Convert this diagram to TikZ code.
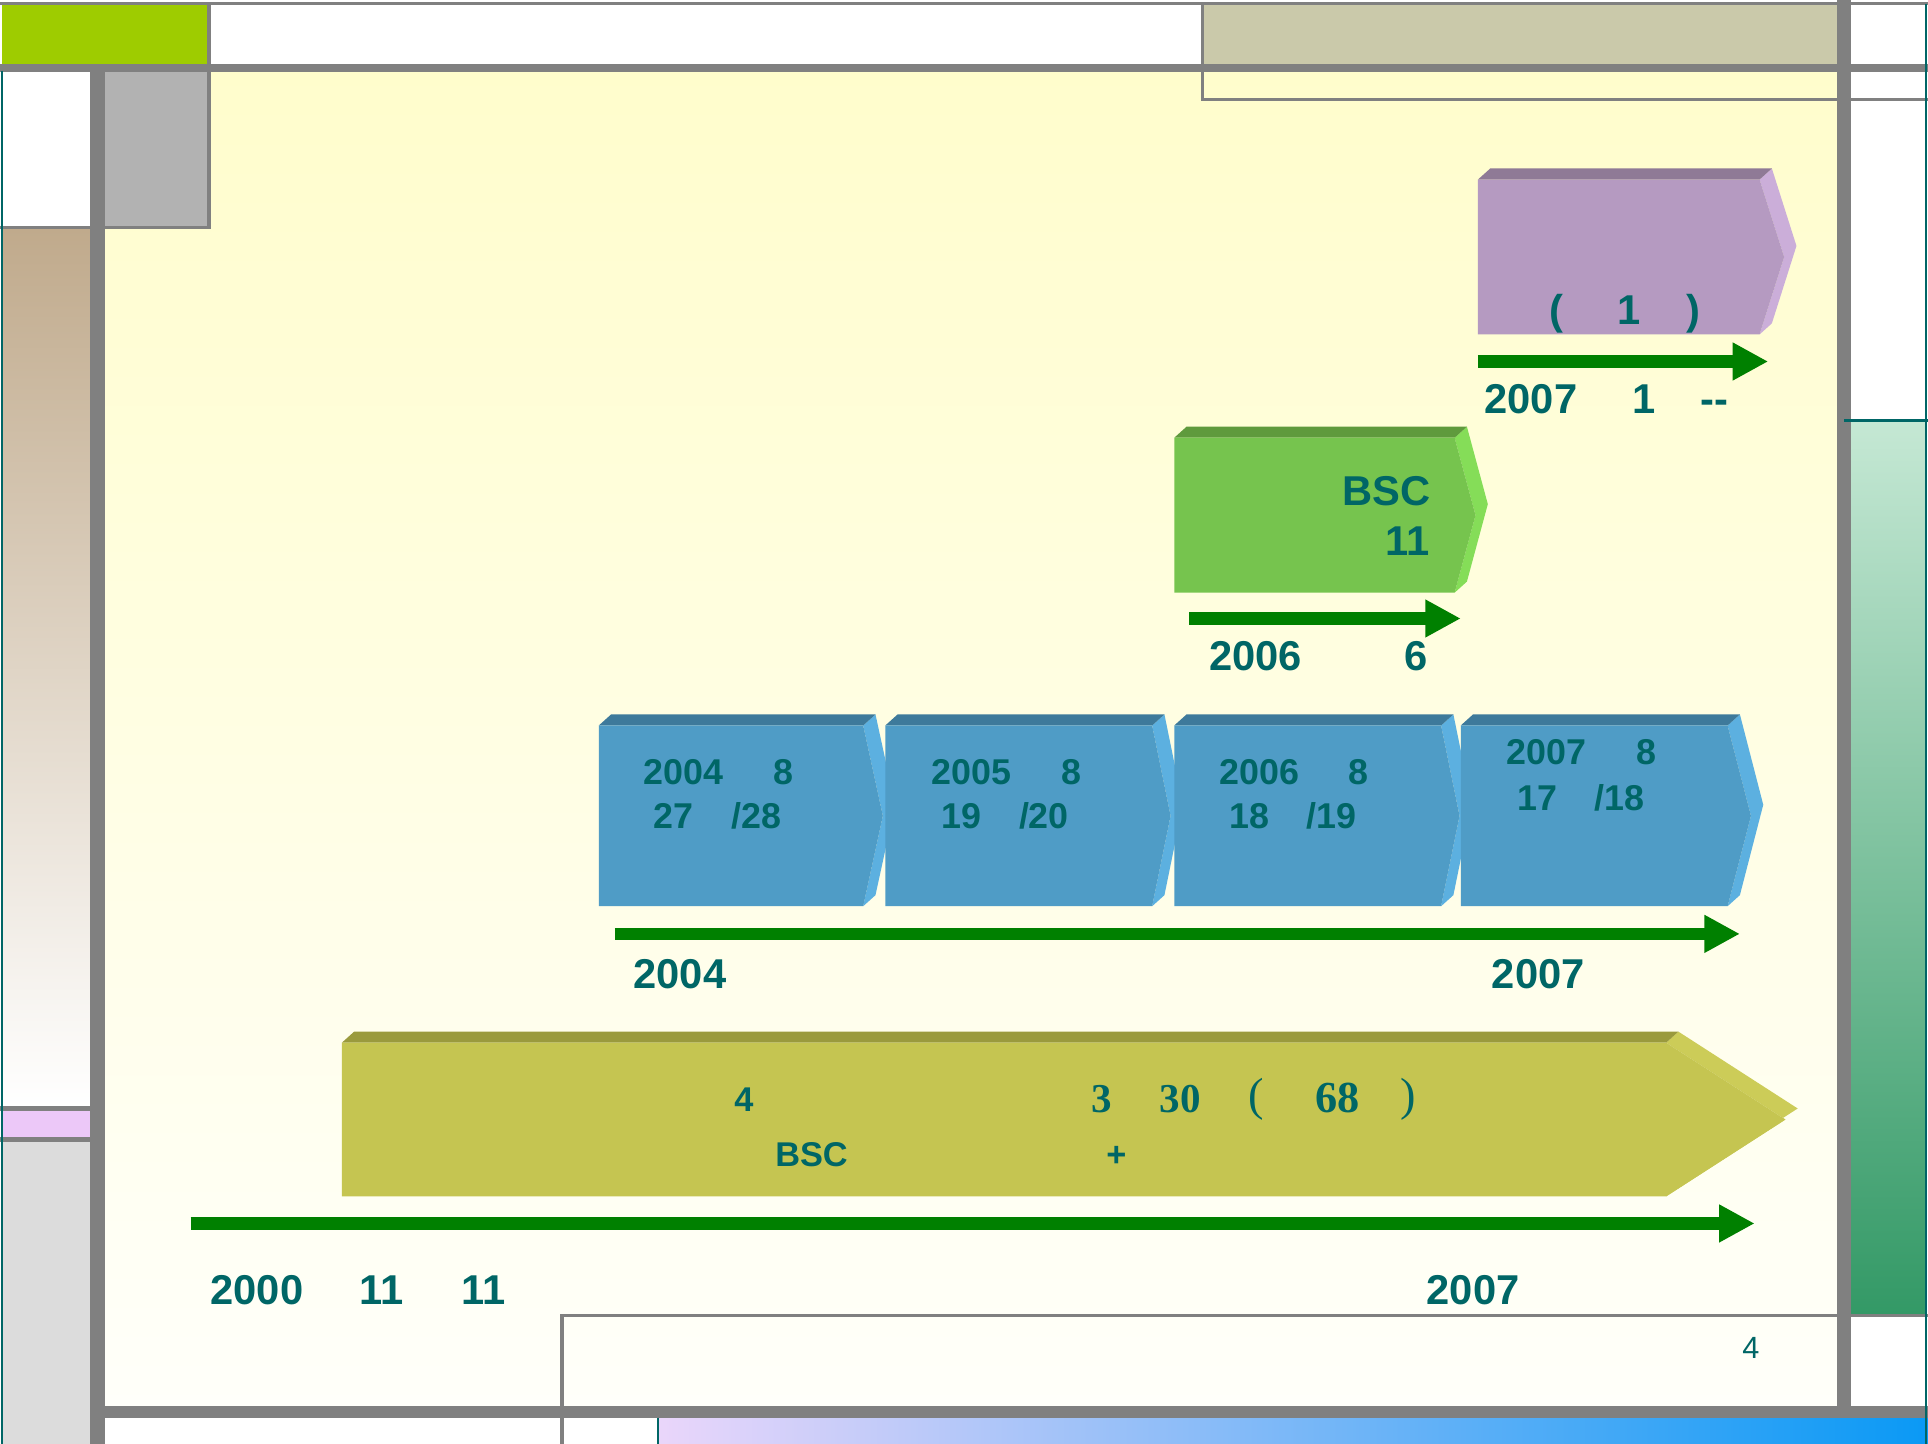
\documentclass[tikz,border=0pt]{standalone}
\usepackage{fontspec}
\setmainfont{Liberation Sans}
\newfontfamily\serifnum{Liberation Serif}
\usetikzlibrary{arrows.meta}
\definecolor{tealtxt}{RGB}{0,102,102}
\definecolor{arrowgreen}{RGB}{0,128,0}
\definecolor{band}{RGB}{128,128,128}
\definecolor{topgreen}{RGB}{158,204,0}
\definecolor{toptan}{RGB}{202,201,170}
\definecolor{boxgray}{RGB}{178,178,178}
\definecolor{pinkbar}{RGB}{236,200,248}
\definecolor{lightbar}{RGB}{220,220,220}
\definecolor{bluefront}{RGB}{79,156,198}
\definecolor{bluetop}{RGB}{62,122,155}
\definecolor{blueside}{RGB}{92,176,224}
\definecolor{greenfront}{RGB}{118,196,78}
\definecolor{greentop}{RGB}{95,154,61}
\definecolor{greenside}{RGB}{133,221,88}
\definecolor{purplefront}{RGB}{181,154,193}
\definecolor{purpletop}{RGB}{143,122,150}
\definecolor{purpleside}{RGB}{203,174,217}
\definecolor{olivefront}{RGB}{197,197,81}
\definecolor{olivetop}{RGB}{154,154,61}
\definecolor{oliveside}{RGB}{204,204,88}

% 3d chevron: left, top, right, bottom, tip, colour
\newcommand{\stepslab}[6]{%
  \fill[#6side] (#3,#2) -- ++(10,-9) -- ({#5+10},{(#2+#4)/2-9}) -- ({#3+10},{#4-9}) -- (#3,#4) -- (#5,{(#2+#4)/2}) -- cycle;
  \fill[#6top] (#1,#2) -- ++(10,-9) -- ({#3+10},{#2-9}) -- (#3,#2) -- cycle;
  \fill[#6front] (#1,#2) -- (#3,#2) -- (#5,{(#2+#4)/2}) -- (#3,#4) -- (#1,#4) -- cycle;
}

\begin{document}
\begin{tikzpicture}[x=0.02cm,y=-0.02cm,
  lab/.style={text=tealtxt,font=\bfseries\fontsize{19.3}{23}\selectfont,inner sep=0pt},
  boxlab/.style={lab,font=\bfseries\fontsize{16.6}{20}\selectfont},
  olivelab/.style={lab,font=\bfseries\fontsize{15.9}{19}\selectfont},
  olivenum/.style={lab,font=\serifnum\bfseries\fontsize{19}{22}\selectfont},
  timearrow/.style={-{Triangle[length=16.4pt,width=16.4pt]},line width=5.7pt,arrowgreen},
  thin line/.style={band,line width=1.6pt}]
  \useasboundingbox (0,0) rectangle (1568,1173.6);
  \fill[white] (0,0) rectangle (1568,1173.6);

  % frame
  \shade[top color={rgb,255:red,255;green,253;blue,204},bottom color={rgb,255:red,255;green,255;blue,250}]
    (85,58) rectangle (1496,1146);
  \fill[topgreen] (2,3) rectangle (170,53);
  \fill[toptan] (978,3) rectangle (1497,53);
  \fill[boxgray] (85,58) rectangle (170,185);
  \shade[top color={rgb,255:red,192;green,170;blue,140},bottom color=white] (2,186) rectangle (74,901);
  \fill[pinkbar] (2,903) rectangle (74,926);
  \fill[lightbar] (2,928) rectangle (74,1174);
  \shade[top color={rgb,255:red,197;green,232;blue,212},bottom color={rgb,255:red,51;green,153;blue,102}]
    (1504,342) rectangle (1566,1070);
  \shade[left color={rgb,255:red,234;green,214;blue,250},right color={rgb,255:red,10;green,153;blue,245}]
    (535,1152) rectangle (1568,1174);
  \fill[band] (0,52) rectangle (1568,58.5);
  \fill[band] (73,52) rectangle (85.5,1174);
  \fill[band] (1494,0) rectangle (1505,1146);
  \fill[band] (85,1143.5) rectangle (1568,1153);
  \draw[thin line] (0,3) -- (1568,3);
  \draw[thin line] (0,185) -- (171,185);
  \draw[thin line] (170,3) -- (170,186);
  \draw[band,line width=2.4pt] (0,901.5) -- (74,901.5);
  \draw[band,line width=2.4pt] (0,927) -- (74,927);
  \draw[thin line] (978,3) -- (978,81) -- (1568,81);
  \draw[thin line] (457,1174) -- (457,1070) -- (1568,1070);
  \draw[tealtxt,line width=1.8pt] (1500,342) -- (1568,342);
  \draw[tealtxt,line width=0.8pt] (1566.5,3) -- (1566.5,1174);
  \draw[tealtxt,line width=0.8pt] (1.5,58) -- (1.5,1174);
  \draw[tealtxt,line width=0.8pt] (535,1153) -- (535,1174);

  % bars
  \stepslab{278}{848}{1355}{973}{1452}{olive}
  \stepslab{487}{590}{702}{737}{718}{blue}
  \stepslab{720}{590}{937}{737}{952}{blue}
  \stepslab{955}{590}{1172}{737}{1187}{blue}
  \stepslab{1188}{590}{1405}{737}{1424}{blue}
  \stepslab{955}{356}{1183}{482}{1200}{green}
  \stepslab{1202}{146}{1431}{272}{1451}{purple}

  % purple
  \node[lab,anchor=base] (puOpen) at (1266,264) {(};
  \node[lab,anchor=base] (puOne) at (1325,264) {1};
  \node[lab,anchor=base] (puClose) at (1377,264) {)};
  \coordinate (puS) at (1202,294);
  \coordinate (puE) at (1438,294);
  \draw[timearrow] (puS) -- (puE);
  \node[lab,anchor=base] (puYr) at (1245,336) {2007};
  \node[lab,anchor=base] (puMon) at (1337,336) {1};
  \node[lab,anchor=base] (puDash) at (1394,336) {-{}-};

  % green
  \node[lab,anchor=base east] (grBsc) at (1164,411) {BSC};
  \node[lab,anchor=base east] (grNum) at (1163,452) {11};
  \coordinate (grS) at (967,503);
  \coordinate (grE) at (1188,503);
  \draw[timearrow] (grS) -- (grE);
  \node[lab,anchor=base] (grYr) at (1021,545) {2006};
  \node[lab,anchor=base] (grMon) at (1152,545) {6};

  % blue
  \node[boxlab,anchor=base] (blA) at (556,638) {2004};
  \node[boxlab,anchor=base] (blAm) at (637,638) {8};
  \node[boxlab,anchor=base] (blAd) at (548,674) {27};
  \node[boxlab,anchor=base] (blAe) at (615,674) {/28};
  \node[boxlab,anchor=base] (blB) at (790,638) {2005};
  \node[boxlab,anchor=base] (blBm) at (871,638) {8};
  \node[boxlab,anchor=base] (blBd) at (782,674) {19};
  \node[boxlab,anchor=base] (blBe) at (849,674) {/20};
  \node[boxlab,anchor=base] (blC) at (1024,638) {2006};
  \node[boxlab,anchor=base] (blCm) at (1105,638) {8};
  \node[boxlab,anchor=base] (blCd) at (1016,674) {18};
  \node[boxlab,anchor=base] (blCe) at (1083,674) {/19};
  \node[boxlab,anchor=base] (blD) at (1258,622) {2007};
  \node[boxlab,anchor=base] (blDm) at (1339,622) {8};
  \node[boxlab,anchor=base] (blDd) at (1250,659) {17};
  \node[boxlab,anchor=base] (blDe) at (1317,659) {/18};
  \coordinate (blS) at (500,759.5);
  \coordinate (blE) at (1415,759.5);
  \draw[timearrow] (blS) -- (blE);
  \node[lab,anchor=base] (blYrA) at (553,804) {2004};
  \node[lab,anchor=base] (blYrB) at (1251,804) {2007};

  % olive
  \node[olivelab,anchor=base] (olFour) at (605,904) {4};
  \node[olivenum,anchor=base] (olThree) at (896,905) {3};
  \node[olivenum,anchor=base] (olThirty) at (960,905) {30};
  \node[olivenum,anchor=base,font=\serifnum\fontsize{21.5}{24}\selectfont] (olOpen) at (1022,903) {(};
  \node[olivenum,anchor=base,font=\serifnum\bfseries\fontsize{20.5}{24}\selectfont] (olNum) at (1088,905) {68};
  \node[olivenum,anchor=base,font=\serifnum\fontsize{21.5}{24}\selectfont] (olClose) at (1145,903) {)};
  \node[olivelab,anchor=base] (olBsc) at (660,949) {BSC};
  \node[olivelab,anchor=base] (olPlus) at (908,949) {+};
  \coordinate (olS) at (155,995);
  \coordinate (olE) at (1427,995);
  \draw[timearrow] (olS) -- (olE);
  \node[lab,anchor=base] (olYr) at (209,1061) {2000};
  \node[lab,anchor=base] (olMon) at (310,1061) {11};
  \node[lab,anchor=base] (olDay) at (393,1061) {11};
  \node[lab,anchor=base] (olEnd) at (1198,1061) {2007};

  \node[text=tealtxt,font=\fontsize{14.2}{17}\selectfont,inner sep=0pt,anchor=base] (pageNo) at (1424,1105) {4};
\end{tikzpicture}
\end{document}
